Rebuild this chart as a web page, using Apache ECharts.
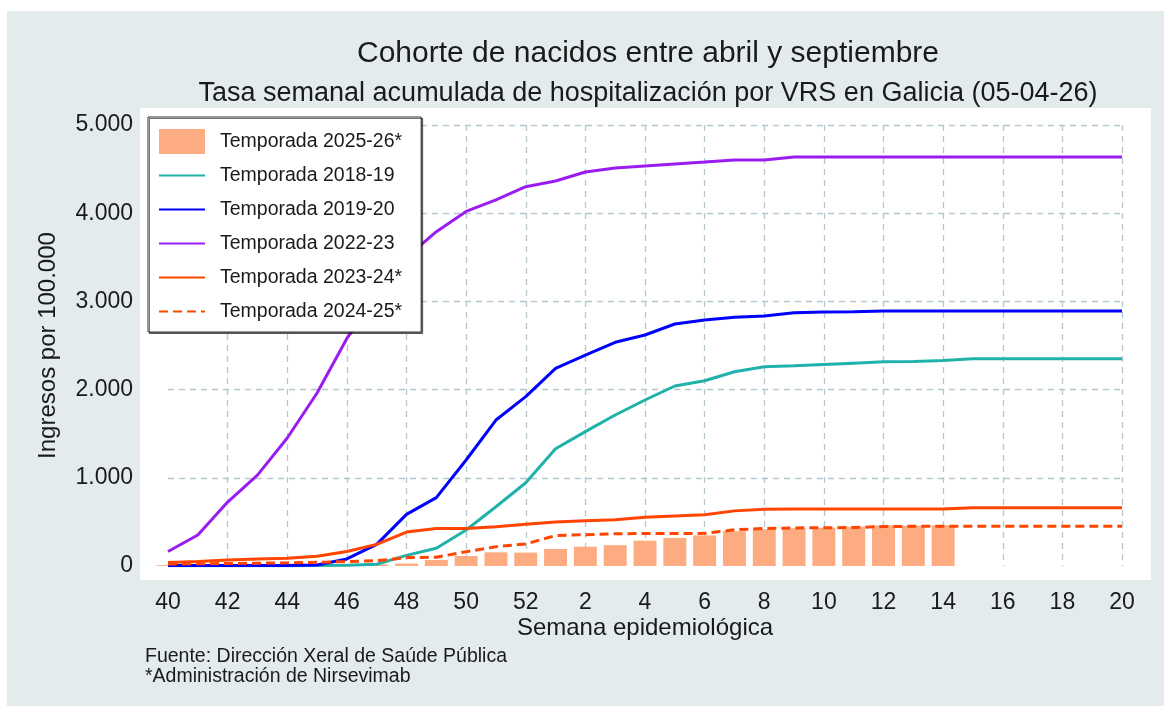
<!DOCTYPE html>
<html>
<head>
<meta charset="utf-8">
<script src="https://cdn.jsdelivr.net/npm/echarts@6/dist/echarts.min.js"></script>
<style>
  html, body { margin: 0; padding: 0; background: #fff; }
  #chart { width: 1164px; height: 706px; }
</style>
</head>
<body>
<div id="chart"></div>
<script>
// Semana epidemiológica: 40..52 y luego 1..20
const weeks = ['40', '41', '42', '43', '44', '45', '46', '47', '48', '49', '50', '51', '52',
    '1', '2', '3', '4', '5', '6', '7', '8', '9', '10', '11', '12', '13', '14', '15', '16', '17', '18', '19', '20'];

// Temporada 2025-26* (barras), datos hasta la semana 14
const t2526 = [10, 10, 12, 12, 14, 15, 16, 18, 28, 68, 113, 155, 152,
    193, 219, 236, 287, 319, 347, 395, 416, 427, 434, 446, 461, 455, 461, null, null, null, null, null, null];
const t1819 = [3, 3, 3, 3, 3, 5, 8, 20, 120, 202, 408, 672, 944,
    1330, 1523, 1712, 1882, 2041, 2101, 2203, 2260, 2270, 2285, 2300, 2315, 2320, 2330, 2350, 2350, 2350, 2350, 2350, 2350];
const t1920 = [5, 5, 5, 5, 5, 12, 80, 245, 585, 775, 1202, 1655, 1920,
    2241, 2392, 2536, 2619, 2744, 2789, 2820, 2834, 2870, 2880, 2882, 2890, 2890, 2890, 2890, 2890, 2890, 2890, 2890, 2890];
const t2223 = [165, 351, 725, 1031, 1451, 1961, 2580, 3050, 3500, 3790, 4020, 4150, 4300,
    4365, 4467, 4512, 4535, 4558, 4580, 4603, 4603, 4637, 4637, 4637, 4637, 4637, 4637, 4637, 4637, 4637, 4637, 4637, 4637];
const t2324 = [40, 50, 68, 80, 87, 110, 165, 245, 385, 425, 425, 445, 472,
    498, 512, 525, 552, 567, 580, 625, 643, 645, 645, 645, 645, 645, 645, 660, 660, 660, 660, 660, 660];
const t2425 = [22, 25, 28, 32, 36, 42, 50, 60, 95, 100, 162, 219, 250,
    345, 355, 365, 368, 368, 370, 410, 425, 432, 434, 436, 448, 450, 450, 452, 452, 452, 452, 452, 452];

const yTicks = [0, 1000, 2000, 3000, 4000, 5000];

const FONT = '"Liberation Sans", Arial, sans-serif';
const TXT = '#1a1a1a';

function fmtMiles(v) {
    return String(v).replace(/\B(?=(\d{3})+(?!\d))/g, '.');
}

function lineSerie(name, data, color, dashed) {
    return {
        name: name,
        type: 'line',
        data: data,
        symbol: 'none',
        smooth: false,
        lineStyle: { color: color, width: 3, type: dashed ? [9, 5] : 'solid' },
        itemStyle: { color: color },
        emphasis: { disabled: true },
        z: 3
    };
}

// entrada de leyenda solo con la linea (sin simbolo)
function lineLegend(name) {
    return { name: name, itemStyle: { opacity: 0 } };
}

const chart = echarts.init(document.getElementById('chart'));
chart.setOption({
    animation: false,
    backgroundColor: '#fff',
    graphic: [
        { type: 'rect', silent: true, z: -20, shape: { x: 7, y: 11, width: 1157, height: 695 }, style: { fill: '#e4ebed' } },
        { type: 'rect', silent: true, z: -10, shape: { x: 140, y: 108, width: 1011, height: 472 }, style: { fill: '#ffffff' } }
    ],
    title: [
        {
            text: 'Cohorte de nacidos entre abril y septiembre',
            left: 643, top: 34, textAlign: 'center',
            textStyle: { fontFamily: FONT, fontSize: 30, fontWeight: 'normal', color: TXT }
        },
        {
            text: 'Tasa semanal acumulada de hospitalización por VRS en Galicia (05-04-26)',
            left: 643, top: 75, textAlign: 'center',
            textStyle: { fontFamily: FONT, fontSize: 27, fontWeight: 'normal', color: TXT }
        },
        {
            // titulo del eje x
            text: 'Semana epidemiológica',
            left: 645, top: 616, padding: 0, textAlign: 'center',
            textStyle: { fontFamily: FONT, fontSize: 24, fontWeight: 'normal', color: TXT }
        },
        {
            text: 'Fuente: Dirección Xeral de Saúde Pública\n*Administración de Nirsevimab',
            left: 145, top: 647, padding: 0,
            textStyle: { fontFamily: FONT, fontSize: 19.5, lineHeight: 20, fontWeight: 'normal', color: TXT }
        }
    ],
    legend: {
        orient: 'vertical',
        left: 148, top: 117,
        padding: [12, 19, 8, 10],
        itemGap: 9,
        itemWidth: 46,
        itemHeight: 25,
        backgroundColor: '#fff',
        borderColor: '#333',
        borderWidth: 1,
        shadowColor: 'rgba(0,0,0,0.55)',
        shadowOffsetX: 1.5,
        shadowOffsetY: 1.5,
        shadowBlur: 0,
        selectedMode: false,
        textStyle: { fontFamily: FONT, fontSize: 19.5, lineHeight: 25, color: TXT, padding: [0, 0, 0, 10] },
        data: [
            { name: 'Temporada 2025-26*', icon: 'rect' },
            lineLegend('Temporada 2018-19'),
            lineLegend('Temporada 2019-20'),
            lineLegend('Temporada 2022-23'),
            lineLegend('Temporada 2023-24*'),
            lineLegend('Temporada 2024-25*')
        ]
    },
    grid: { left: 168, right: 42, top: 125, bottom: 140, outerBoundsMode: 'none' },
    xAxis: {
        type: 'category',
        data: weeks,
        boundaryGap: false,
        axisLine: { show: false },
        axisTick: { show: false },
        axisLabel: { interval: 1, margin: 25, fontFamily: FONT, fontSize: 23, color: TXT },
        splitLine: {
            show: true, interval: 1, showMinLine: false,
            lineStyle: { color: '#b4c7cd', width: 1.3, type: [6, 5] }
        }
    },
    yAxis: {
        type: 'value',
        min: yTicks[0],
        max: yTicks[yTicks.length - 1],
        interval: 1000,
        axisLine: { show: false },
        axisTick: { show: false },
        axisLabel: { margin: 35, fontFamily: FONT, fontSize: 23, color: TXT, formatter: fmtMiles },
        splitLine: {
            show: true, showMinLine: false,
            lineStyle: { color: '#b4c7cd', width: 1.3, type: [6, 5] }
        },
        name: 'Ingresos por 100.000',
        nameLocation: 'middle',
        nameGap: 108,
        nameTextStyle: { fontFamily: FONT, fontSize: 24, color: TXT }
    },
    series: [
        {
            name: 'Temporada 2025-26*',
            type: 'bar',
            data: t2526,
            barWidth: '77%',
            clip: false,
            itemStyle: { color: '#fdab80' },
            emphasis: { disabled: true },
            z: 2
        },
        lineSerie('Temporada 2018-19', t1819, '#20b2aa', false),
        lineSerie('Temporada 2019-20', t1920, '#0000ff', false),
        lineSerie('Temporada 2022-23', t2223, '#9a1cf0', false),
        lineSerie('Temporada 2023-24*', t2324, '#ff4500', false),
        lineSerie('Temporada 2024-25*', t2425, '#ff4500', true)
    ]
});
window.addEventListener('resize', () => chart.resize());
</script>
</body>
</html>
